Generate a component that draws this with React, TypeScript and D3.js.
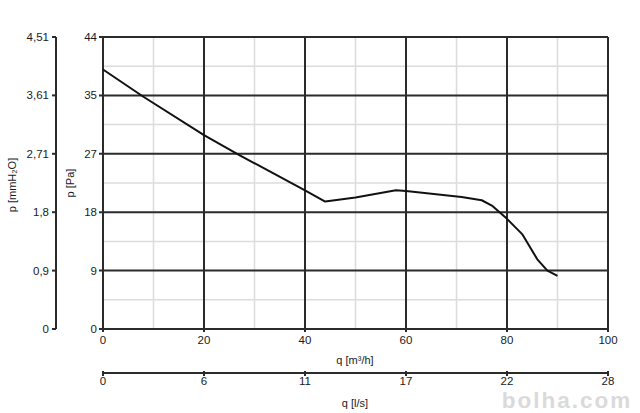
import React from "react";
import * as d3 from "d3";

// flow in m3/h and static pressure in Pa
const qM3h = [0, 8, 20, 27, 40, 44, 47, 50, 58, 60, 71, 75, 77, 80, 83, 86, 88, 90];
const pPa = [39.1, 35.0, 29.2, 26.2, 20.9, 19.2, 19.5, 19.8, 20.9, 20.8, 19.9, 19.4, 18.6, 16.6, 14.3, 10.5, 8.8, 8.0];

const qTicks = [0, 20, 40, 60, 80, 100];
const qMinorTicks = [10, 30, 50, 70, 90];
const lsTickLabels = ["0", "6", "11", "17", "22", "28"];
const paTickLabels = ["0", "9", "18", "27", "35", "44"];
const mmTickLabels = ["0", "0,9", "1,8", "2,71", "3,61", "4,51"];

const W = 640;
const H = 413;
const left = 103;
const right = 608;
const top = 37;
const bottom = 329;
const font = "'Liberation Sans', Arial, sans-serif";
const ink = "#1a1a1a";

export default function App() {
  const x = d3.scaleLinear().domain([0, 100]).range([left, right]);
  const y = d3.scaleLinear().domain([0, 44]).range([bottom, top]);

  const yMajor = d3.range(0, 6).map((i) => i * 8.8);
  const yMinor = d3.range(0, 5).map((i) => i * 8.8 + 4.4);

  const line = d3
    .line<number>()
    .x((d, i) => x(qM3h[i]))
    .y((d) => y(d));

  const mmX = 56;
  const lsY = 373;

  return (
    <svg
      width={W}
      height={H}
      style={{ position: "absolute", left: 0, top: 0, background: "#fff" }}
      fontFamily={font}
      fontSize={11.5}
    >
      <rect width={W} height={H} fill="#fff" />

      {/* watermark, behind everything */}
      <text x={567} y={408} textAnchor="middle" fill="#dadada" fontSize={22.5} fontWeight="bold" letterSpacing={2}>
        bolha.com
      </text>

      {/* minor grid */}
      {qMinorTicks.map((q) => (
        <line key={"vm" + q} x1={x(q)} x2={x(q)} y1={top} y2={bottom} stroke="#dcdcdc" strokeWidth={1.5} />
      ))}
      {yMinor.map((v) => (
        <line key={"hm" + v} x1={left} x2={right} y1={y(v)} y2={y(v)} stroke="#dcdcdc" strokeWidth={1.5} />
      ))}

      {/* major grid */}
      {qTicks.map((q) => (
        <line key={"vM" + q} x1={x(q)} x2={x(q)} y1={top} y2={bottom + 3} stroke="#2b2b2b" strokeWidth={2} />
      ))}
      {yMajor.map((v) => (
        <line key={"hM" + v} x1={left - 4} x2={right} y1={y(v)} y2={y(v)} stroke="#2b2b2b" strokeWidth={2} />
      ))}

      {/* curve */}
      <path d={line(pPa) || ""} fill="none" stroke="#111" strokeWidth={2} strokeLinejoin="round" />

      {/* Pa tick labels */}
      {yMajor.map((v, i) => (
        <text key={"pa" + i} x={left - 6} y={y(v)} dy="0.35em" textAnchor="end" fill={ink}>
          {paTickLabels[i]}
        </text>
      ))}

      {/* mmH2O axis */}
      <line x1={mmX} x2={mmX} y1={top} y2={bottom} stroke="#2b2b2b" strokeWidth={2} />
      {yMajor.map((v, i) => (
        <g key={"mm" + i}>
          <line x1={mmX - 4} x2={mmX} y1={y(v)} y2={y(v)} stroke="#2b2b2b" strokeWidth={2} />
          <text x={mmX - 7} y={y(v)} dy="0.35em" textAnchor="end" fill={ink}>
            {mmTickLabels[i]}
          </text>
        </g>
      ))}

      {/* q m3/h labels */}
      {qTicks.map((q) => (
        <text key={"q" + q} x={x(q)} y={344} textAnchor="middle" fill={ink}>
          {q}
        </text>
      ))}
      <text x={355} y={364} textAnchor="middle" fill={ink} fontSize={11}>
        q [m³/h]
      </text>

      {/* l/s axis */}
      <line x1={left} x2={right} y1={lsY} y2={lsY} stroke="#2b2b2b" strokeWidth={2} />
      {qTicks.map((q, i) => (
        <g key={"ls" + i}>
          <line x1={x(q)} x2={x(q)} y1={lsY - 2} y2={lsY + 3} stroke="#2b2b2b" strokeWidth={2} />
          <text x={x(q)} y={385} textAnchor="middle" fill={ink}>
            {lsTickLabels[i]}
          </text>
        </g>
      ))}
      <text x={355} y={407} textAnchor="middle" fill={ink} fontSize={11}>
        q [l/s]
      </text>

      {/* axis titles */}
      <text transform={`translate(16,185) rotate(-90)`} textAnchor="middle" fill={ink} fontSize={11}>
        p [mmH₂O]
      </text>
      <text transform={`translate(74,183) rotate(-90)`} textAnchor="middle" fill={ink} fontSize={11}>
        p [Pa]
      </text>
    </svg>
  );
}
